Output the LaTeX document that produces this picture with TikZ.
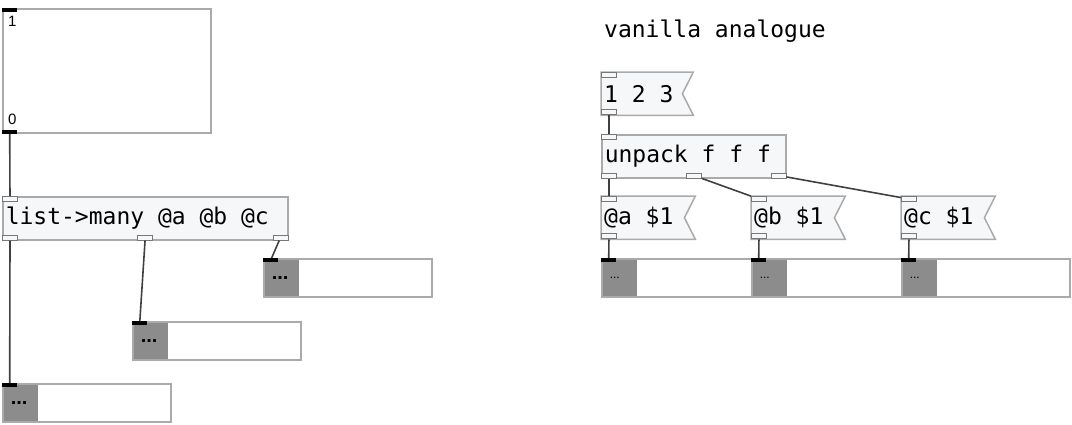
\documentclass[tikz,border=0pt]{standalone}
\usepackage{fontspec}
\setmonofont{DejaVu Sans Mono}
\setsansfont{Liberation Sans}
\usetikzlibrary{positioning,calc,backgrounds}
\definecolor{PdFrame}{RGB}{170,170,170}
\definecolor{PdFill}{RGB}{246,247,249}
\definecolor{PdWire}{RGB}{64,64,64}
\definecolor{PdNum}{RGB}{140,140,140}
\definecolor{PdPort}{RGB}{120,120,120}

\begin{document}
\begin{tikzpicture}[x=1pt,y=-1pt,every node/.style={font=\ttfamily\fontsize{23}{26}\selectfont}]
\tikzset{obj/.style={draw=PdFrame,fill=PdFill,line width=1.5pt,anchor=north west,minimum height=43pt,inner xsep=3pt,inner ysep=0pt,execute at begin node={\spaceskip=0pt\xspaceskip=0pt\relax}},
  msg/.style={anchor=north west,minimum height=43pt,inner xsep=3pt,inner ysep=0pt,execute at begin node={\spaceskip=0pt\xspaceskip=0pt\relax}},
  flag/.style={draw=PdFrame,fill=PdFill,line width=1.5pt,line join=miter},
  port/.style={draw=PdPort,fill=PdFill,line width=1pt,minimum width=15pt,minimum height=5pt,inner sep=0pt,anchor=north west},
  bar/.style={fill=black,minimum width=15pt,minimum height=4pt,inner sep=0pt,anchor=north west},
  nbox/.style={draw=PdFrame,fill=white,line width=1.5pt,anchor=north west,minimum width=168pt,minimum height=38pt,inner xsep=8pt,inner ysep=0pt,text width=152pt,font=\sffamily\bfseries\fontsize{20}{20}\selectfont,
    path picture={\fill[PdNum] (path picture bounding box.north west) rectangle ([xshift=35pt]path picture bounding box.south west);}},
  nboxs/.style={nbox,inner xsep=8pt,text width=152pt,font=\sffamily\fontsize{12}{12}\selectfont},
  lbl/.style={font=\sffamily\fontsize{15}{15}\selectfont,inner sep=1pt},
  wire/.style={draw=PdWire,line width=1.6pt}}
\useasboundingbox (0,0) rectangle (1072,424);

% left: list->many
\node[draw=PdFrame,line width=2pt,fill=white,anchor=north west,minimum width=208pt,minimum height=124pt] (arr) at (2,8) {};
\node[lbl,anchor=north west] (hi) at (7,15) {1};
\node[lbl,anchor=south west] (lo) at (7,126) {0};
\node[bar] (arr-i) at (arr.north west) {};
\node[bar,anchor=south west] (arr-o) at (arr.south west) {};
\node[obj,text width=279pt] (lm) at (2,196) {list->many @a @b @c};
\node[nbox] (nb3) at (263,258) {...};
\node[nbox] (nb2) at (132,321) {...};
\node[nbox] (nb1) at (2,383) {...};

% right: vanilla
\node[anchor=west,inner sep=0pt] (title) at (604,31) {vanilla analogue};
\node[msg,text width=86pt] (m123) at (601,72) {1 2 3};
\node[obj,text width=178pt] (up) at (601,134) {unpack f f f};
\node[msg,text width=88pt] (ma) at (601,196) {@a \$1};
\node[msg,text width=88pt] (mb) at (751,196) {@b \$1};
\node[msg,text width=88pt] (mc) at (901,196) {@c \$1};
\node[nboxs] (nr1) at (601,258) {...};
\node[nboxs] (nr2) at (751,258) {...};
\node[nboxs] (nr3) at (901,258) {...};

\begin{scope}[on background layer]
\foreach \m in {m123,ma,mb,mc}
  \draw[flag] (\m.north west) -- (\m.north east) -- ([xshift=-11pt]\m.east) -- (\m.south east) -- (\m.south west) -- cycle;
\end{scope}

% inlets and outlets
\foreach \o in {lm,m123,up,ma,mb,mc} {
  \node[port] (\o-i) at (\o.north west) {};
  \node[port,anchor=south west] (\o-o) at (\o.south west) {};
}
\node[port,anchor=south] (lm-o2) at (lm.south) {};
\node[port,anchor=south east] (lm-o3) at (lm.south east) {};
\node[port,anchor=south] (up-o2) at (up.south) {};
\node[port,anchor=south east] (up-o3) at (up.south east) {};
\foreach \n in {nb1,nb2,nb3,nr1,nr2,nr3}
  \node[bar] (\n-i) at (\n.north west) {};

% wires
\draw[wire] (arr-o) -- (lm-i);
\draw[wire] (lm-o) -- (nb1-i);
\draw[wire] (lm-o2) -- (nb2-i);
\draw[wire] (lm-o3) -- (nb3-i);
\draw[wire] (m123-o) -- (up-i);
\draw[wire] (up-o) -- (ma-i);
\draw[wire] (up-o2) -- (mb-i);
\draw[wire] (up-o3) -- (mc-i);
\draw[wire] (ma-o) -- (nr1-i);
\draw[wire] (mb-o) -- (nr2-i);
\draw[wire] (mc-o) -- (nr3-i);
\end{tikzpicture}
\end{document}
